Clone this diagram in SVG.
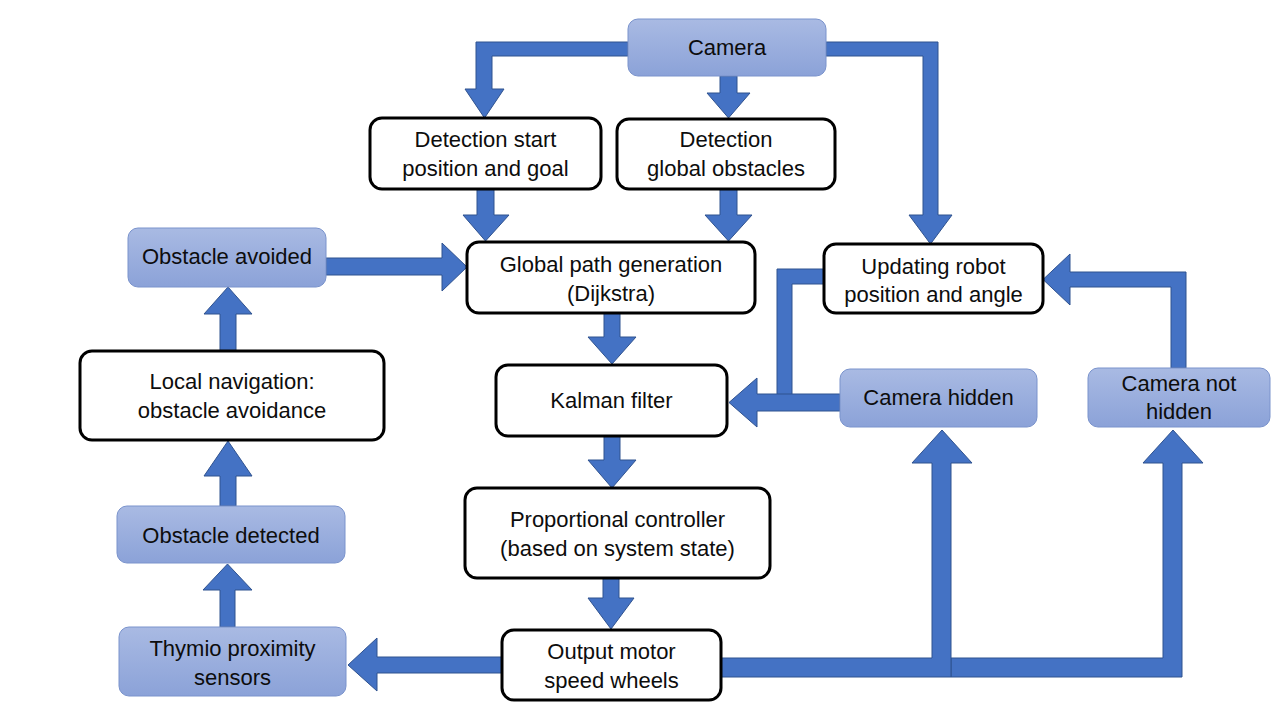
<svg xmlns="http://www.w3.org/2000/svg" width="1280" height="720" viewBox="0 0 1280 720">
<defs>
<linearGradient id="blueGrad" x1="0" y1="0" x2="0" y2="1">
<stop offset="0" stop-color="#a9bae3"/>
<stop offset="1" stop-color="#8ba2d8"/>
</linearGradient>
<style>
.arrow{fill:#4472c4;stroke:#2f528f;stroke-width:1;stroke-linejoin:miter}
.wbox{fill:#ffffff;stroke:#000000;stroke-width:3}
.bbox{fill:url(#blueGrad);stroke:#7a93cc;stroke-width:1}
.t{font-family:"Liberation Sans",Arial,sans-serif;font-size:22px;fill:#0d0d0d;text-anchor:middle}
</style>
</defs>
<rect width="1280" height="720" fill="#ffffff"/>
<g id="connectors">
<polygon class="arrow" points="628,42 476,42 476,89 465,89 484.5,118 504,89 492,89 492,56 628,56"/>
<polygon class="arrow" points="720,76 737,76 737,93 750,93 728.5,118 707,93 720,93"/>
<polygon class="arrow" points="826,42 938,42 938,215 952,215 930.5,244 909,215 923,215 923,56 826,56"/>
<polygon class="arrow" points="477,189 494,189 494,215 509,215 485.5,241 463,215 477,215"/>
<polygon class="arrow" points="720,189 737,189 737,215 752,215 728.5,241 705,215 720,215"/>
<polygon class="arrow" points="326,258 442,258 442,243 467,267 442,291 442,275 326,275"/>
<polygon class="arrow" points="604,313 620,313 620,337 636,337 612,364 588,337 604,337"/>
<polygon class="arrow" points="604,436 620,436 620,460 636,460 612,488 588,460 604,460"/>
<polygon class="arrow" points="603,578 619,578 619,598 634,598 611,629 588,598 603,598"/>
<polygon class="arrow" points="502,657 377,657 377,638 348,665 377,691 377,673 502,673"/>
<polygon class="arrow" points="220,627 220,590 203,590 227.5,564 252,590 235,590 235,627"/>
<polygon class="arrow" points="220,506 220,476 204,476 228,441 252,476 236,476 236,506"/>
<polygon class="arrow" points="220,351 220,314 204,314 228,287 252,314 236,314 236,351"/>
<polygon class="arrow" points="824,269 777,269 777,395 792,395 792,284 824,284"/>
<polygon class="arrow" points="840,394 757,394 757,378 729,402.5 757,427 757,411 840,411"/>
<polygon class="arrow" points="1171,368 1171,287 1070,287 1070,305 1043,279.5 1070,254 1070,272 1186,272 1186,368"/>
<polygon class="arrow" points="951,658 1163,658 1163,463 1143,463 1173,430 1203,463 1182,463 1182,677 951,677"/>
<polygon class="arrow" points="721,658 932,658 932,463 912,463 942,430 972,463 951,463 951,677 721,677"/>
</g>
<g id="camera">
<rect class="bbox" x="628" y="19" width="198" height="57" rx="10"/>
<text class="t" x="727" y="55">Camera</text>
</g>
<g id="detection-start">
<rect class="wbox" x="370" y="118" width="231" height="71" rx="12"/>
<text class="t" x="485.5" y="147">Detection start</text>
<text class="t" x="485.5" y="176">position and goal</text>
</g>
<g id="detection-global">
<rect class="wbox" x="617" y="119" width="218" height="70" rx="12"/>
<text class="t" x="726" y="147">Detection</text>
<text class="t" x="726" y="176">global obstacles</text>
</g>
<g id="global-path">
<rect class="wbox" x="467" y="242" width="288" height="71" rx="12"/>
<text class="t" x="611" y="272">Global path generation</text>
<text class="t" x="611" y="301">(Dijkstra)</text>
</g>
<g id="updating-robot">
<rect class="wbox" x="824" y="244" width="219" height="69" rx="12"/>
<text class="t" x="933.5" y="274">Updating robot</text>
<text class="t" x="933.5" y="302">position and angle</text>
</g>
<g id="obstacle-avoided">
<rect class="bbox" x="128" y="228" width="198" height="59" rx="10"/>
<text class="t" x="227" y="264">Obstacle avoided</text>
</g>
<g id="local-navigation">
<rect class="wbox" x="80" y="351" width="304" height="89" rx="12"/>
<text class="t" x="232" y="389">Local navigation:</text>
<text class="t" x="232" y="418">obstacle avoidance</text>
</g>
<g id="kalman-filter">
<rect class="wbox" x="496" y="365" width="231" height="71" rx="12"/>
<text class="t" x="611.5" y="408">Kalman filter</text>
</g>
<g id="camera-hidden">
<rect class="bbox" x="840" y="369" width="197" height="58" rx="10"/>
<text class="t" x="938.5" y="405">Camera hidden</text>
</g>
<g id="camera-not-hidden">
<rect class="bbox" x="1088" y="368" width="182" height="59" rx="10"/>
<text class="t" x="1179" y="391">Camera not</text>
<text class="t" x="1179" y="419">hidden</text>
</g>
<g id="proportional-controller">
<rect class="wbox" x="465" y="488" width="305" height="90" rx="12"/>
<text class="t" x="617.5" y="527">Proportional controller</text>
<text class="t" x="617.5" y="556">(based on system state)</text>
</g>
<g id="obstacle-detected">
<rect class="bbox" x="117" y="506" width="228" height="57" rx="10"/>
<text class="t" x="231" y="543">Obstacle detected</text>
</g>
<g id="thymio-sensors">
<rect class="bbox" x="119" y="627" width="227" height="69" rx="10"/>
<text class="t" x="232.5" y="656">Thymio proximity</text>
<text class="t" x="232.5" y="685">sensors</text>
</g>
<g id="output-motor">
<rect class="wbox" x="502" y="630" width="219" height="70" rx="12"/>
<text class="t" x="611.5" y="659">Output motor</text>
<text class="t" x="611.5" y="688">speed wheels</text>
</g>
</svg>
